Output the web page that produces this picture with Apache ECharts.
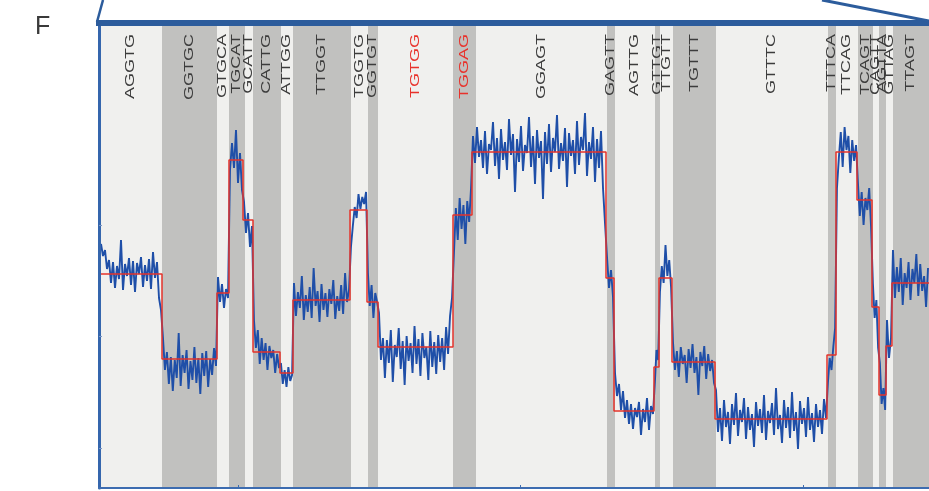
<!DOCTYPE html>
<html>
<head>
<meta charset="utf-8">
<script src="https://cdn.jsdelivr.net/npm/echarts@6/dist/echarts.min.js"></script>
<style>
  html, body { margin: 0; padding: 0; background: #fff; }
  #chart { width: 929px; height: 491px; }
</style>
</head>
<body>
<div id="chart"></div>
<script>
var chart = echarts.init(document.getElementById('chart'));

// k-mer bands (edges on the sample axis), alternate light / grey
var bandEdges = [0, 63, 118, 130, 146, 154, 182, 194, 252, 269, 279, 354, 377, 508, 516, 556, 561, 574, 617, 729, 737, 759, 774, 780, 787, 794, 830];
var bandLabels = ['AGGTG', 'GGTGC', 'GTGCA', 'TGCAT', 'GCATT', 'CATTG', 'ATTGG', 'TTGGT', 'TGGTG', 'GGTGT', 'TGTGG', 'TGGAG', 'GGAGT',
                  'GAGTT', 'AGTTG', 'GTTGT', 'TTGTT', 'TGTTT', 'GTTTC', 'TTTCA', 'TTCAG', 'TCAGT', 'CAGTT', 'AGTTA', 'GTTAG', 'TTAGT'];
var redLabels = ['TGTGG', 'TGGAG'];

// fitted levels (red steps)
var stepEdges = [1, 63, 118, 130, 144, 154, 181, 194, 251, 268, 279, 354, 373, 507, 515, 555, 560, 573, 616, 728, 737, 758, 773, 780, 787, 793, 830];
var stepLevels = [214, 129, 195, 328, 268, 136, 115, 188, 278, 186, 141, 273, 336, 210, 77, 121, 210, 126, 69, 133, 336, 288, 181, 93, 142, 205];

// raw current trace, one list per step
var traceSegments = [
  [244, 232, 238, 219, 228, 205, 226, 200, 222, 209, 248, 198, 224, 212, 230, 203, 227, 196, 225, 214, 231, 201, 223, 207, 229, 199, 236, 210, 226, 190, 178],
  [150, 118, 136, 104, 131, 97, 128, 110, 155, 102, 133, 115, 138, 99, 127, 108, 141, 105, 130, 94, 135, 112, 137, 101, 129, 113, 140, 122],
  [211, 186, 204, 180, 199, 190],
  [318, 345, 320, 358, 305, 335, 298],
  [286, 255, 275, 241, 262],
  [168, 140, 158, 124, 150, 128, 145, 118, 142, 130, 138, 115, 134, 120],
  [125, 104, 118, 101, 121, 107, 113],
  [205, 172, 196, 180, 212, 168, 193, 176, 201, 170, 220, 182, 197, 166, 204, 178, 195, 171, 199, 184, 208, 169, 192, 177, 203, 174, 215, 186, 198],
  [241, 262, 281, 270, 294, 279, 291, 284, 296],
  [215, 182, 203, 170, 195, 186],
  [175, 128, 150, 110, 148, 125, 158, 106, 143, 131, 160, 119, 147, 103, 152, 127, 145, 115, 162, 124, 149, 112, 155, 130, 141, 108, 157, 121, 146, 114, 153, 126, 150, 118, 161, 134, 172, 190],
  [235, 280, 248, 290, 259, 283, 244, 287, 266, 300],
  [352, 325, 361, 331, 348, 320, 357, 314, 344, 338, 366, 322, 350, 309, 359, 328, 346, 318, 369, 333, 354, 296, 349, 326, 362, 317, 343, 335, 371, 321,
   352, 304, 358, 330, 347, 289, 356, 324, 364, 316, 350, 336, 373, 319, 345, 327, 360, 301, 355, 332, 348, 314, 367, 323, 351, 338, 375, 312, 346, 329,
   361, 306, 349, 320, 357, 300, 265],
  [231, 200, 218, 191],
  [115, 92, 104, 78, 97, 70, 88, 64, 84, 59, 80, 71, 86, 53, 79, 66, 90, 58, 82, 74],
  [105, 138, 128],
  [196, 222, 205, 243, 212, 228, 201],
  [146, 118, 137, 111, 141, 124, 133, 105, 139, 120, 144, 115, 131, 93, 136, 122, 142, 109, 134, 117, 128, 105],
  [98, 56, 80, 47, 88, 61, 76, 44, 84, 63, 95, 52, 78, 66, 90, 49, 81, 58, 74, 41, 86, 62, 79, 55, 93, 48, 77, 65, 85, 53,
   100, 59, 73, 45, 88, 60, 81, 50, 96, 57, 76, 39, 87, 64, 80, 51, 91, 58, 75, 46, 84, 61, 78, 54, 89, 70],
  [105, 130, 118, 141, 160],
  [300, 330, 356, 321, 361, 338, 352, 315, 348, 327, 343],
  [305, 272, 296, 263, 290, 278, 300, 261],
  [205, 170, 188, 140],
  [125, 84, 100, 78],
  [168, 130, 150],
  [238, 190, 221, 196, 230, 183, 215, 200, 226, 188, 219, 205, 234, 192, 224, 197, 212, 181, 220]
];

var yTicks = [40, 152, 263];
var xTicks = [139, 421, 704];

// build series data
var bandData = [];
for (var i = 0; i < bandLabels.length; i++) {
    bandData.push([bandEdges[i], bandEdges[i + 1], i % 2, bandLabels[i]]);
}
var stepData = [];
for (var i = 0; i < stepLevels.length; i++) {
    stepData.push([stepEdges[i], stepLevels[i]]);
}
stepData.push([stepEdges[stepEdges.length - 1], stepLevels[stepLevels.length - 1]]);

var traceData = [];
traceSegments.forEach(function (vals, i) {
    var a = stepEdges[i], b = stepEdges[i + 1];
    vals.forEach(function (v, k) {
        traceData.push([a + (k + 0.5) * (b - a) / vals.length, v]);
    });
});

var option = {
    animation: false,
    backgroundColor: '#fff',
    title: {
        text: 'F', left: 30, top: 10,
        textStyle: { fontSize: 25, fontWeight: 'normal', color: '#3a3a3a', fontFamily: 'Liberation Sans' }
    },
    grid: { left: 99, right: 0, top: 25, bottom: 3 },
    xAxis: {
        type: 'value', min: 0, max: 830, z: 6,
        axisLine: { show: true, lineStyle: { color: '#3d6cb0', width: 2 } },
        axisTick: { show: true, inside: true, length: 3, customValues: xTicks, lineStyle: { color: '#3d6cb0' } },
        axisLabel: { show: false },
        splitLine: { show: false }
    },
    yAxis: {
        type: 'value', min: 0, max: 463, z: 6,
        axisLine: { show: true, lineStyle: { color: '#3566ad', width: 3 } },
        axisTick: { show: true, inside: true, length: 3, customValues: yTicks, lineStyle: { color: '#7a96c4' } },
        axisLabel: { show: false },
        splitLine: { show: false }
    },
    graphic: [
        { type: 'rect', shape: { x: 96, y: 20, width: 840, height: 6 }, style: { fill: '#2c5c9c' }, z: 10 },
        { type: 'line', shape: { x1: 103, y1: 0, x2: 97, y2: 22 }, style: { stroke: '#2c5c9c', lineWidth: 2.5 }, z: 10 },
        { type: 'line', shape: { x1: 822, y1: 0, x2: 929, y2: 21 }, style: { stroke: '#2c5c9c', lineWidth: 3 }, z: 10 }
    ],
    series: [
        {
            type: 'custom',
            data: bandData,
            z: 1,
            renderItem: function (params, api) {
                var p0 = api.coord([api.value(0), 463]);
                var p1 = api.coord([api.value(1), 0]);
                var label = bandData[params.dataIndex][3];
                var isRed = redLabels.indexOf(label) >= 0;
                return {
                    type: 'group',
                    children: [
                        {
                            type: 'rect',
                            shape: { x: p0[0], y: p0[1], width: p1[0] - p0[0], height: p1[1] - p0[1] },
                            style: { fill: api.value(2) === 0 ? '#f0f0ee' : '#c1c1bf' }
                        },
                        {
                            type: 'text',
                            x: (p0[0] + p1[0]) / 2,
                            y: 34,
                            rotation: Math.PI / 2,
                            scaleX: 1.5,
                            style: {
                                text: label,
                                align: 'right',
                                verticalAlign: 'middle',
                                fontSize: 12,
                                fontFamily: 'Liberation Sans',
                                fill: isRed ? '#e8322b' : '#3c3c3c'
                            }
                        }
                    ]
                };
            }
        },
        {
            name: 'trace',
            type: 'line',
            data: traceData,
            z: 3,
            symbol: 'none',
            lineStyle: { color: '#1f4fa8', width: 1.9 }
        },
        {
            name: 'level',
            type: 'line',
            data: stepData,
            step: 'end',
            z: 4,
            symbol: 'none',
            lineStyle: { color: '#e4332b', width: 1.5 }
        }
    ]
};

chart.setOption(option);
</script>
</body>
</html>
